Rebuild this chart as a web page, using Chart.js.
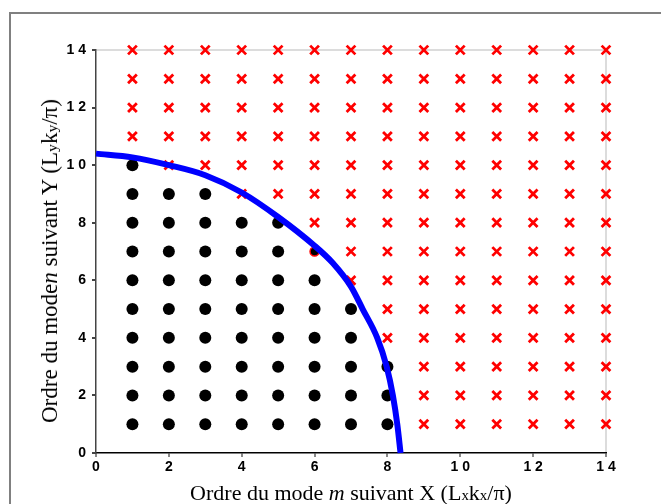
<!DOCTYPE html>
<html>
<head>
<meta charset="utf-8">
<script src="https://cdn.jsdelivr.net/npm/chart.js@4.4.1/dist/chart.umd.min.js"></script>
<style>
  body { margin: 0; background: #fff; }
  #wrap { position: relative; width: 661px; height: 504px; overflow: hidden; }
  #frame { position: absolute; left: 9px; top: 12px; width: 700px; height: 600px;
           border-left: 2px solid #808080; border-top: 2px solid #808080; }
  canvas { position: absolute; left: 0; top: 0; }
  .title { position: absolute; font-family: "Liberation Serif", "Times New Roman", serif;
           color: #000; white-space: nowrap; }
  .title small { font-size: 68%; }
  #xTitle { font-size: 22px; left: 351px; top: 480px; transform: translateX(-50%); }
  #yTitle { font-size: 23px; left: 50px; top: 261px; transform: translate(-50%, -50%) rotate(-90deg); }
</style>
</head>
<body>
<div id="wrap">
  <div id="frame"></div>
  <canvas id="chart" width="661" height="504"></canvas>
  <div class="title" id="xTitle">Ordre du mode <i>m</i> suivant X (L<small>x</small>k<small>x</small>/π)</div>
  <div class="title" id="yTitle">Ordre du mode<i>n</i> suivant Y (L<small>y</small>k<small>y</small>/π)</div>
</div>
<script>
// bornes des axes
const axisMin = 0;
const axisMax = 14;
const tickStep = 2;

// courbe bleue (m, n)
const curveM = [0, 1, 2, 3, 4, 5, 6, 6.5, 7, 7.32, 7.72, 7.98, 8.15, 8.27, 8.36];
const curveN = [10.4, 10.27, 10.0, 9.65, 9.05, 8.2, 7.2, 6.6, 5.78, 5, 4, 3, 2, 1, 0];

// ordres n = 1..10 : dernier m en point noir pour chaque ligne
const rowN = [1, 2, 3, 4, 5, 6, 7, 8, 9, 10];
const lastBlackM = [8, 8, 8, 7, 7, 6, 5, 5, 3, 1];

// point entouré de rouge
const ringM = [6];
const ringN = [7];

// grille des modes
const modeM = [1, 2, 3, 4, 5, 6, 7, 8, 9, 10, 11, 12, 13, 14];
const modeN = [1, 2, 3, 4, 5, 6, 7, 8, 9, 10, 11, 12, 13, 14];

const blackPts = [];
const redPts = [];
modeN.forEach(n => {
    const idx = rowN.indexOf(n);
    const last = idx >= 0 ? lastBlackM[idx] : 0;
    modeM.forEach(m => {
        if (ringM.some((rm, i) => rm === m && ringN[i] === n)) return;
        if (m <= last) blackPts.push({ x: m, y: n });
        else redPts.push({ x: m, y: n });
    });
});

const curvePts = curveM.map((m, i) => ({ x: m, y: curveN[i] }));
const ringPts = ringM.map((m, i) => ({ x: m, y: ringN[i] }));

const tickFont = { family: '"Liberation Sans", Arial, sans-serif', size: 14, weight: 'bold' };
const spaced = v => String(v).split('').join(' ');

new Chart(document.getElementById('chart').getContext('2d'), {
    type: 'scatter',
    data: {
        datasets: [
            {
                type: 'line',
                data: curvePts,
                borderColor: '#0000ff',
                borderWidth: 6,
                pointRadius: 0,
                cubicInterpolationMode: 'monotone',
                fill: false,
                clip: false,
                order: 0
            },
            {
                data: ringPts,
                pointStyle: 'circle',
                pointRadius: 4.5,
                backgroundColor: '#000000',
                borderColor: '#ff0000',
                borderWidth: 1.5,
                clip: false,
                order: 1
            },
            {
                data: blackPts,
                pointStyle: 'circle',
                pointRadius: 6,
                backgroundColor: '#000000',
                borderWidth: 0,
                clip: false,
                order: 2
            },
            {
                data: redPts,
                pointStyle: 'crossRot',
                pointRadius: 6.2,
                borderColor: '#ff0000',
                borderWidth: 2.8,
                clip: false,
                order: 3
            }
        ]
    },
    options: {
        responsive: false,
        animation: false,
        layout: { padding: { left: 0, top: 50, right: 55, bottom: 0 } },
        plugins: { legend: { display: false }, tooltip: { enabled: false } },
        scales: {
            x: {
                type: 'linear',
                min: axisMin,
                max: axisMax,
                afterFit: s => { s.height = 51; },
                border: { color: '#000000', width: 1.5 },
                grid: {
                    color: ctx => ctx.tick && ctx.tick.value === axisMax ? '#dcdcdc' : 'rgba(0,0,0,0)',
                    lineWidth: 2,
                    tickColor: '#888888',
                    tickLength: 4
                },
                ticks: {
                    stepSize: tickStep,
                    color: '#000',
                    font: tickFont,
                    padding: 2,
                    maxRotation: 0,
                    callback: spaced
                }
            },
            y: {
                type: 'linear',
                min: axisMin,
                max: axisMax,
                afterFit: s => { s.width = 96; },
                border: { color: '#444444', width: 1.5 },
                grid: {
                    color: ctx => ctx.tick && ctx.tick.value === axisMax ? '#dcdcdc' : 'rgba(0,0,0,0)',
                    lineWidth: 2,
                    tickColor: '#444444',
                    tickLength: 4
                },
                ticks: {
                    stepSize: tickStep,
                    color: '#000',
                    font: tickFont,
                    padding: 6,
                    callback: spaced
                }
            }
        }
    }
});
</script>
</body>
</html>
